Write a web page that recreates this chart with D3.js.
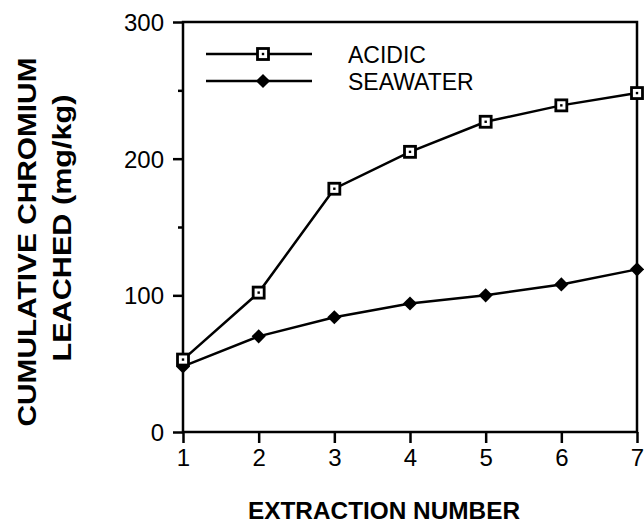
<!DOCTYPE html>
<html>
<head>
<meta charset="utf-8">
<script src="https://cdn.jsdelivr.net/npm/d3@7"></script>
<style>
  html, body { margin: 0; padding: 0; background: #fff; }
  svg { display: block; }
  text { font-family: "Liberation Sans", Arial, Helvetica, sans-serif; fill: #000; }
</style>
</head>
<body>
<svg id="chart" width="644" height="525"></svg>
<script>
// ---- data ----
const extraction = [1, 2, 3, 4, 5, 6, 7];
const acidic = [53, 102, 178, 205, 227, 239, 248];
const seawater = [48, 70, 84, 94, 100, 108, 119];
const yMajorTicks = [0, 100, 200, 300];
const yMinorTicks = [50, 150, 250];
const seriesNames = ["ACIDIC", "SEAWATER"];
const xTitle = "EXTRACTION NUMBER";
const yTitle1 = "CUMULATIVE  CHROMIUM";
const yTitle2 = "LEACHED  (mg/kg)";

// ---- layout ----
const L = 183, R = 637, T = 22, B = 432;
const svg = d3.select("#chart");
const x = d3.scaleLinear().domain([1, 7]).range([L, R]);
const y = d3.scaleLinear().domain([0, 300]).range([B, T]);

// frame
svg.append("rect").attr("x", L).attr("y", T).attr("width", R - L).attr("height", B - T)
  .attr("fill", "none").attr("stroke", "#000").attr("stroke-width", 2.5);

// y axis
const yAx = svg.append("g").attr("transform", `translate(${L},0)`)
  .call(d3.axisLeft(y).tickValues(yMajorTicks).tickSize(10).tickPadding(9).tickFormat(d3.format("d")));
yAx.select(".domain").remove();
yAx.selectAll("line").attr("stroke-width", 2.5);
yAx.selectAll("text").attr("font-size", 24).attr("font-family", "Liberation Sans, Arial, sans-serif").attr("dy", "0.35em");

const yMin = svg.append("g").attr("transform", `translate(${L},0)`)
  .call(d3.axisLeft(y).tickValues(yMinorTicks).tickSize(5).tickFormat(""));
yMin.select(".domain").remove();
yMin.selectAll("line").attr("stroke-width", 2.5);

// x axis
const xAx = svg.append("g").attr("transform", `translate(0,${B})`)
  .call(d3.axisBottom(x).tickValues(extraction).tickSize(11).tickPadding(6).tickFormat(d3.format("d")));
xAx.select(".domain").remove();
xAx.selectAll("line").attr("stroke-width", 2.5);
xAx.selectAll("text").attr("font-size", 24).attr("font-family", "Liberation Sans, Arial, sans-serif");

// lines
const line = d3.line().x((d, i) => x(extraction[i])).y(d => y(d));
svg.append("path").datum(seawater).attr("d", line).attr("fill", "none")
  .attr("stroke", "#000").attr("stroke-width", 2.5);
svg.append("path").datum(acidic).attr("d", line).attr("fill", "none")
  .attr("stroke", "#000").attr("stroke-width", 2.5);

// markers
function diamond(g, cx, cy) {
  g.append("path").attr("d", d3.symbol().type(d3.symbolSquare).size(100)())
    .attr("transform", `translate(${cx},${cy}) rotate(45)`).attr("fill", "#000");
}
function openSquare(g, cx, cy) {
  g.append("rect").attr("x", cx - 5.5).attr("y", cy - 5.5).attr("width", 11).attr("height", 11)
    .attr("fill", "#fff").attr("stroke", "#000").attr("stroke-width", 2.8);
  g.append("rect").attr("x", cx - 1.2).attr("y", cy - 1.2).attr("width", 2.4).attr("height", 2.4).attr("fill", "#000");
}
const mk = svg.append("g");
seawater.forEach((v, i) => diamond(mk, x(extraction[i]), y(v)));
acidic.forEach((v, i) => openSquare(mk, x(extraction[i]), y(v)));

// legend
const lg = svg.append("g");
const rows = [54, 81];
rows.forEach((ry, i) => {
  lg.append("line").attr("x1", 206).attr("x2", 312).attr("y1", ry).attr("y2", ry)
    .attr("stroke", "#000").attr("stroke-width", 2.5);
  if (i === 0) openSquare(lg, 263, ry); else diamond(lg, 263, ry);
  lg.append("text").attr("x", 348).attr("y", ry + 8.5).attr("font-size", 23).text(seriesNames[i]);
});

// axis titles
svg.append("text").attr("x", 384).attr("y", 519).attr("text-anchor", "middle")
  .attr("font-size", 24).attr("font-weight", "bold")
  .attr("textLength", 272).attr("lengthAdjust", "spacingAndGlyphs").text(xTitle);

svg.append("text").attr("transform", "translate(36,242) rotate(-90)").attr("text-anchor", "middle")
  .attr("font-size", 25).attr("font-weight", "bold")
  .attr("textLength", 369).attr("lengthAdjust", "spacingAndGlyphs").text(yTitle1);
svg.append("text").attr("transform", "translate(71,228) rotate(-90)").attr("text-anchor", "middle")
  .attr("font-size", 25).attr("font-weight", "bold")
  .attr("textLength", 267).attr("lengthAdjust", "spacingAndGlyphs").text(yTitle2);
</script>
</body>
</html>
